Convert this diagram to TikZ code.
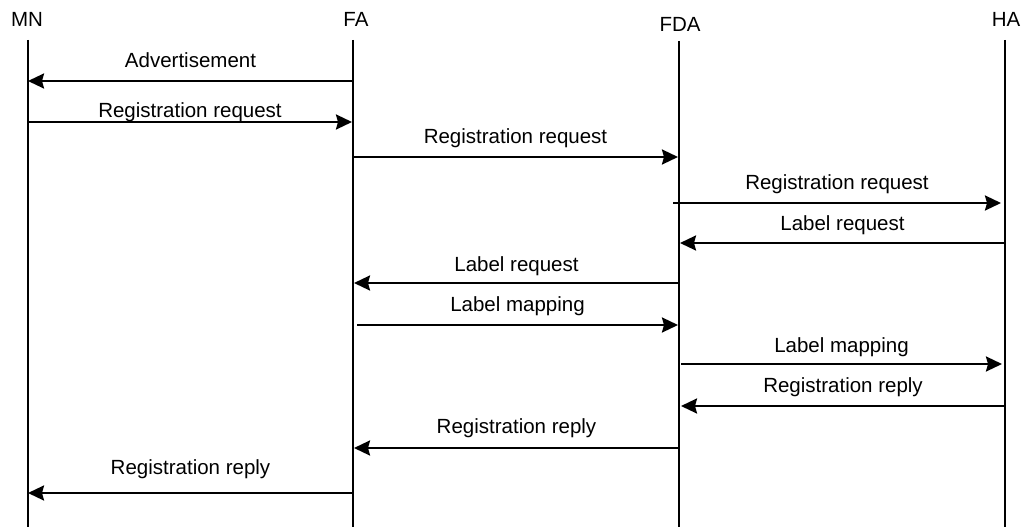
\documentclass[tikz,border=0pt]{standalone}
\usepackage{fontspec}
\setmainfont{Liberation Sans}
\usetikzlibrary{arrows.meta}
\begin{document}
\begin{tikzpicture}[x=1pt,y=-1pt,
  lifeline/.style={line width=2.6pt},
  msg/.style={line width=2.4pt,-{Stealth[length=16pt,width=15pt,inset=2pt]}},
  actor/.style={font=\fontsize{20.5}{24}\selectfont,anchor=base,inner sep=0pt},
  lbl/.style={font=\fontsize{20.5}{24}\selectfont,anchor=base,inner sep=0pt,midway}]
\useasboundingbox (0,0) rectangle (1025,527);

% participants and their lifelines
\node[actor] (mn)  at (27,27)   {MN};
\node[actor] (fa)  at (356,27)  {FA};
\node[actor] (fda) at (680,32)  {FDA};
\node[actor] (ha)  at (1006,27) {HA};
\coordinate (mnT)  at (28,40);   \coordinate (mnB)  at (28,527);
\coordinate (faT)  at (353,40);  \coordinate (faB)  at (353,527);
\coordinate (fdaT) at (679,41);  \coordinate (fdaB) at (679,527);
\coordinate (haT)  at (1005,40); \coordinate (haB)  at (1005,527);
\draw[lifeline] (mnT) -- (mnB);
\draw[lifeline] (faT) -- (faB);
\draw[lifeline] (fdaT) -- (fdaB);
\draw[lifeline] (haT) -- (haB);

% message end points
\coordinate (s1) at (353,81);   \coordinate (e1) at (28,81);
\coordinate (s2) at (28,122);   \coordinate (e2) at (352,122);
\coordinate (s3) at (353,157);  \coordinate (e3) at (678,157);
\coordinate (s4) at (673,203);  \coordinate (e4) at (1001,203);
\coordinate (s5) at (1005,243); \coordinate (e5) at (680,243);
\coordinate (s6) at (679,283);  \coordinate (e6) at (354,283);
\coordinate (s7) at (357,325);  \coordinate (e7) at (678,325);
\coordinate (s8) at (681,364);  \coordinate (e8) at (1002,364);
\coordinate (s9) at (1005,406); \coordinate (e9) at (681,406);
\coordinate (s10) at (679,448); \coordinate (e10) at (354,448);
\coordinate (s11) at (353,493); \coordinate (e11) at (28,493);

% messages
\draw[msg] (s1) -- (e1)   node[lbl,yshift=14pt] {Advertisement};
\draw[msg] (s2) -- (e2)   node[lbl,yshift=5pt]  {Registration request};
\draw[msg] (s3) -- (e3)   node[lbl,yshift=14pt] {Registration request};
\draw[msg] (s4) -- (e4)   node[lbl,yshift=14pt] {Registration request};
\draw[msg] (s5) -- (e5)   node[lbl,yshift=13pt] {Label request};
\draw[msg] (s6) -- (e6)   node[lbl,yshift=12pt] {Label request};
\draw[msg] (s7) -- (e7)   node[lbl,yshift=14pt] {Label mapping};
\draw[msg] (s8) -- (e8)   node[lbl,yshift=12pt] {Label mapping};
\draw[msg] (s9) -- (e9)   node[lbl,yshift=14pt] {Registration reply};
\draw[msg] (s10) -- (e10) node[lbl,yshift=15pt] {Registration reply};
\draw[msg] (s11) -- (e11) node[lbl,yshift=19pt] {Registration reply};
\end{tikzpicture}
\end{document}
